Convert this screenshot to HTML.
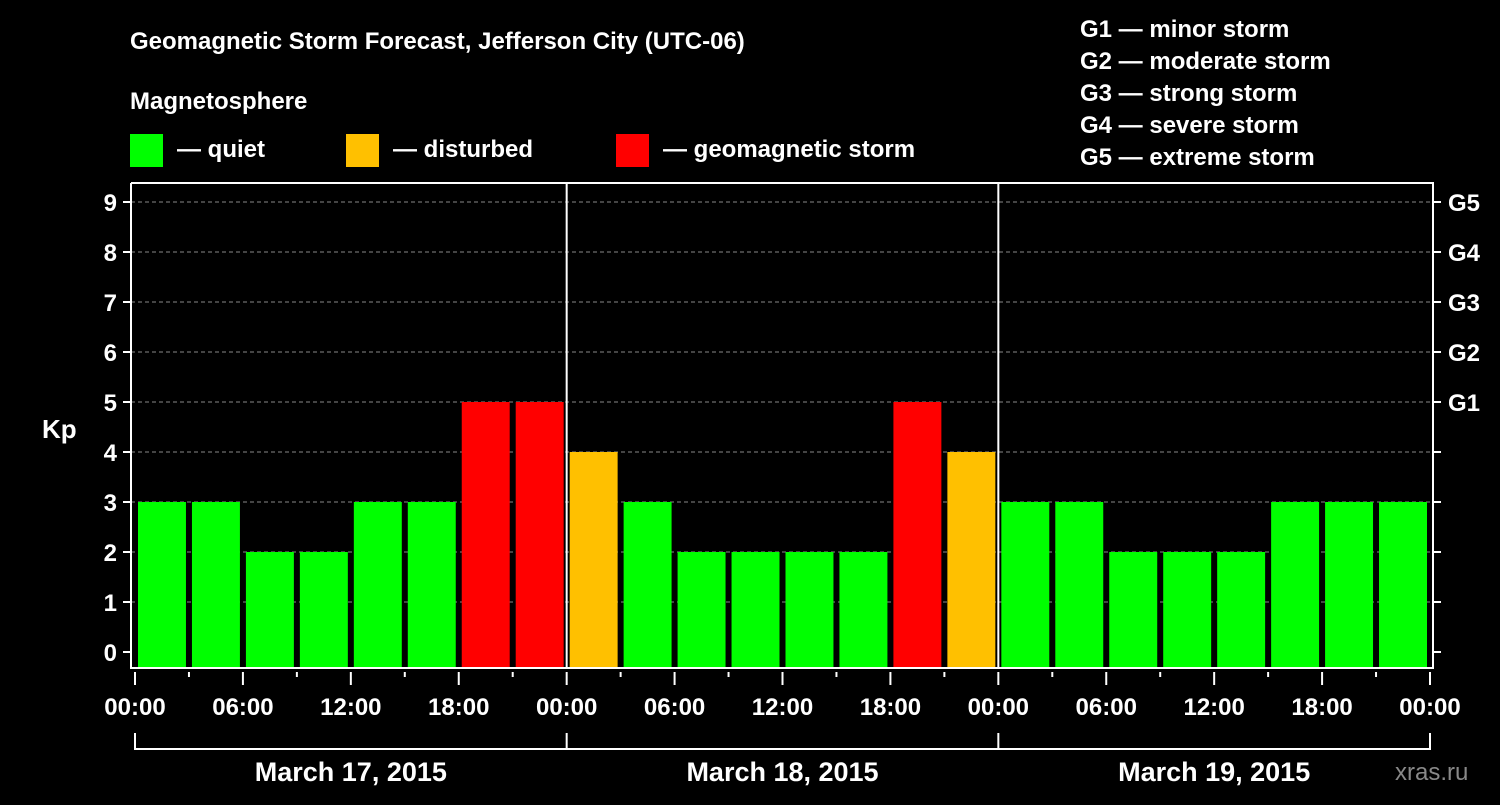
<!DOCTYPE html>
<html><head><meta charset="utf-8"><style>
body{margin:0;background:#000;width:1500px;height:800px;overflow:hidden}
svg text{font-family:"Liberation Sans",sans-serif;font-weight:bold;fill:#fff}
</style></head><body>
<svg id="chart" width="1500" height="800" xmlns="http://www.w3.org/2000/svg">
<rect width="1500" height="800" fill="#000"/>
<text x="130" y="49" font-size="24">Geomagnetic Storm Forecast, Jefferson City (UTC-06)</text>
<text x="130" y="109" font-size="24">Magnetosphere</text>
<g>
<rect x="130" y="134" width="33" height="33" fill="#00ff00"/>
<text x="177" y="157" font-size="24">— quiet</text>
<rect x="346" y="134" width="33" height="33" fill="#ffc000"/>
<text x="393" y="157" font-size="24">— disturbed</text>
<rect x="616" y="134" width="33" height="33" fill="#ff0000"/>
<text x="663" y="157" font-size="24">— geomagnetic storm</text>
</g>
<g font-size="24">
<text x="1080" y="37">G1 — minor storm</text>
<text x="1080" y="69">G2 — moderate storm</text>
<text x="1080" y="101">G3 — strong storm</text>
<text x="1080" y="133">G4 — severe storm</text>
<text x="1080" y="165">G5 — extreme storm</text>
</g>
<text x="42" y="438" font-size="26">Kp</text>
<text x="1395" y="780" font-size="24" fill="#777" style="fill:#888;font-weight:normal">xras.ru</text>
<g id="grid"></g><g id="bars"></g><g id="axes"></g>
</svg>
<script>
const kpValues=[3,3,2,2,3,3,5,5,4,3,2,2,2,2,5,4,3,3,2,2,2,3,3,3];
const yTicks=[0,1,2,3,4,5,6,7,8,9];
const gLabels=["G1","G2","G3","G4","G5"];
const xTickLabels=["00:00","06:00","12:00","18:00","00:00","06:00","12:00","18:00","00:00","06:00","12:00","18:00","00:00"];
const dayLabels=["March 17, 2015","March 18, 2015","March 19, 2015"];
const NS="http://www.w3.org/2000/svg";
const X0=135,X1=1430,L=131,R=1433,T=183,B=668;
const slot=(X1-X0)/kpValues.length;
const y=v=>652-v*50;
const x=i=>X0+i*slot;
function mk(tag,attrs,parent,text){const e=document.createElementNS(NS,tag);for(const k in attrs)e.setAttribute(k,attrs[k]);if(text!==undefined)e.textContent=text;parent.appendChild(e);return e;}
const grid=document.getElementById('grid'),bars=document.getElementById('bars'),axes=document.getElementById('axes');
yTicks.forEach(v=>{
  if(v>0){const g=mk('line',{x1:L,x2:R,y1:y(v),y2:y(v),stroke:'#888','stroke-dasharray':'4,3','stroke-width':1},grid);
  
  }
  const t=mk('line',{x1:L-8,x2:L,y1:y(v),y2:y(v),stroke:'#fff','stroke-width':2},axes);
  
  
  const l=mk('text',{x:L-14,y:y(v)+9,'font-size':24,'text-anchor':'end'},axes,String(v));
  
  
  const rt=mk('line',{x1:R,x2:R+8,y1:y(v),y2:y(v),stroke:'#fff','stroke-width':2},axes);
  
  
});
gLabels.forEach((g,i)=>{
  const t=mk('text',{x:1448,y:y(5+i)+9,'font-size':24},axes,g);
  
  
});
kpValues.forEach((v,i)=>{
  const c=v>=5?'#ff0000':(v>=4?'#ffc000':'#00ff00');
  const r=mk('rect',{x:x(i)+3,y:y(v),width:slot-6,height:B-y(v),fill:c},bars);
  
  
});
// axes frame
const f=mk('path',{d:`M${L},${T}V${B}H${R}V${T}H${L}`,fill:'none',stroke:'#fff','stroke-width':2},axes);


for(let d=1;d<dayLabels.length;d++){
  const xx=x(d*8);
  const s=mk('line',{x1:xx,x2:xx,y1:T,y2:B,stroke:'#fff','stroke-width':2},axes);
  
  
}
for(let i=0;i<=kpValues.length;i++){
  const major=i%2===0;
  const t=mk('line',{x1:x(i),x2:x(i),y1:B+4,y2:major?B+17:B+9,stroke:'#fff','stroke-width':2},axes);
  
  
}
xTickLabels.forEach((s,i)=>{
  const t=mk('text',{x:x(i*2),y:715,'font-size':24,'text-anchor':'middle'},axes,s);
  
  
});
const br=mk('path',{d:`M${X0},733V749H${X1}V733`,fill:'none',stroke:'#fff','stroke-width':2},axes);


dayLabels.forEach((s,d)=>{
  const xx=x(d*8);
  if(d>0){const v=mk('line',{x1:xx,x2:xx,y1:733,y2:749,stroke:'#fff','stroke-width':2},axes);
  
  }
  const t=mk('text',{x:xx+slot*4,y:781,'font-size':27,'text-anchor':'middle'},axes,s);
  
  
});
</script>
</body></html>
